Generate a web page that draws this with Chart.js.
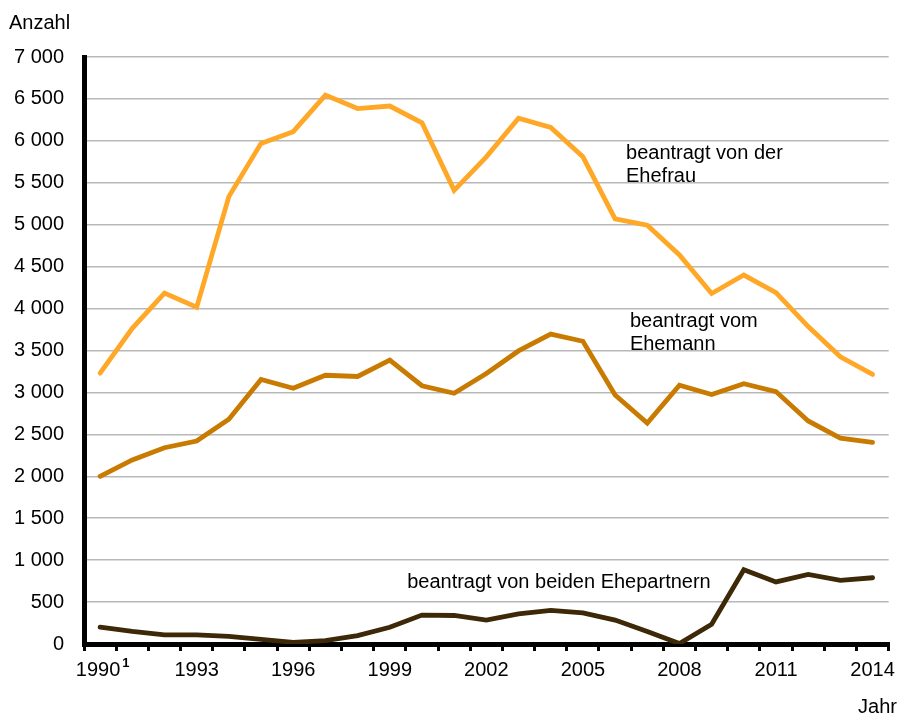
<!DOCTYPE html>
<html><head><meta charset="utf-8">
<script src="https://cdn.jsdelivr.net/npm/chart.js@4/dist/chart.umd.min.js"></script>
<style>html,body{margin:0;padding:0;background:#fff;}</style>
</head><body>
<canvas id="c" width="902" height="718"></canvas>
<script>
const years = ['1990','1991','1992','1993','1994','1995','1996','1997','1998','1999','2000','2001','2002','2003','2004','2005','2006','2007','2008','2009','2010','2011','2012','2013','2014'];
const shownTickLabels = ['1990\u2009','','','1993','','','1996','','','1999','','','2002','','','2005','','','2008','','','2011','','','2014'];
const footnoteMark = '1';
const ehefrau = [3230,3765,4185,4015,5335,5970,6110,6545,6385,6415,6215,5410,5810,6270,6160,5810,5070,4995,4640,4180,4400,4190,3785,3425,3215];
const ehemann = [2000,2195,2340,2420,2680,3155,3050,3205,3190,3385,3080,2990,3225,3495,3695,3610,2970,2635,3085,2975,3105,3010,2660,2455,2405];
const beide   = [200,150,110,110,90,55,20,40,100,200,345,340,285,360,400,370,285,150,5,235,885,740,830,760,790];
const seriesNames = ['beantragt von der Ehefrau','beantragt vom Ehemann','beantragt von beiden Ehepartnern'];
const noteLines = [['beantragt von der','Ehefrau'],['beantragt vom','Ehemann'],['beantragt von beiden Ehepartnern']];
const noteAt = [16.34, 16.46, 9.54];      // category position (index)
const noteValue = [5781, 3783, 665];      // value at first baseline
const yAxisTitle = 'Anzahl';
const xAxisTitle = 'Jahr';

const FONT = '"Liberation Sans", Arial, sans-serif';

const textPlugin = {
  id: 'texts',
  afterDatasetsDraw(chart) {
    const {ctx, scales: {x, y}} = chart;
    ctx.save();
    ctx.font = '20px ' + FONT;
    ctx.fillStyle = '#000';
    ctx.textBaseline = 'alphabetic';
    ctx.textAlign = 'left';
    noteLines.forEach((lines, i) => {
      const px = x.getPixelForValue(noteAt[i]);
      const py = y.getPixelForValue(noteValue[i]);
      lines.forEach((t, j) => ctx.fillText(t, px, py + j * 23));
    });
    ctx.fillText(yAxisTitle, 9, 29);
    ctx.textAlign = 'right';
    ctx.fillText(xAxisTitle, 897, 713);
    // footnote superscript after first tick label
    ctx.textAlign = 'left';
    const full = ctx.measureText(shownTickLabels[0]).width;
    const core = ctx.measureText(shownTickLabels[0].trim()).width;
    const cx = x.getPixelForValue(0);
    const sx = cx - full / 2 + core + 2;
    ctx.font = 'bold 13px ' + FONT;
    ctx.fillText(footnoteMark, sx, x.bottom - x.height + 23);
    ctx.restore();
  }
};

function fmt(v) {
  if (v >= 1000) return Math.floor(v / 1000) + ' ' + String(v % 1000).padStart(3, '0');
  return String(v);
}

new Chart(document.getElementById('c'), {
  type: 'line',
  data: {
    labels: years,
    datasets: [
      {label: seriesNames[0], data: ehefrau, borderColor: '#FFA726', borderWidth: 4.8},
      {label: seriesNames[1], data: ehemann, borderColor: '#C97A00', borderWidth: 4.8},
      {label: seriesNames[2], data: beide, borderColor: '#3D2808', borderWidth: 4.8}
    ].map(d => Object.assign(d, {pointRadius: 0, tension: 0, fill: false, borderCapStyle: 'round', borderJoinStyle: 'miter'}))
  },
  options: {
    responsive: false,
    animation: false,
    layout: {padding: {left: 0, right: 9, top: 57, bottom: 0}},
    plugins: {legend: {display: false}, tooltip: {enabled: false}},
    scales: {
      x: {
        type: 'category',
        offset: true,
        grid: {offset: true, drawOnChartArea: false, drawTicks: true, tickLength: 7, color: '#000', lineWidth: 3},
        border: {display: true, color: '#000', width: 5},
        ticks: {autoSkip: false, maxRotation: 0, minRotation: 0, padding: 7, color: '#000',
                font: {family: FONT, size: 20}, callback: (v, i) => shownTickLabels[i]},
        afterFit: s => { s.height = 74; }
      },
      y: {
        min: 0, max: 7000,
        grid: {color: '#b8b8b8', lineWidth: 1.5, drawTicks: false},
        border: {display: true, color: '#000', width: 5},
        ticks: {stepSize: 500, padding: 20, color: '#000', font: {family: FONT, size: 20}, callback: v => fmt(v)},
        afterFit: s => { s.width = 84; }
      }
    }
  },
  plugins: [textPlugin]
});
</script>
</body></html>
